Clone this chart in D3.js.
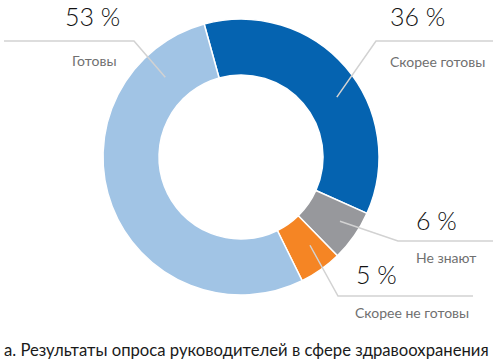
<!DOCTYPE html>
<html>
<head>
<meta charset="utf-8">
<script src="https://cdn.jsdelivr.net/npm/d3@7"></script>
<style>
  body { margin: 0; background: #fff; }
  svg { display: block; font-family: Lato, "Open Sans", sans-serif; }
  .pct { font-size: 25px; font-weight: 300; fill: #111; }
  .cat { font-size: 14px; fill: #707070; }
  .caption { font-size: 16.5px; fill: #1a1a1a; }
  .leader { fill: none; stroke: #d2d2d2; stroke-width: 1.5; }
</style>
</head>
<body>
<script>
'use strict';

// slice data, clockwise from the top
const categories = ["Скорее готовы", "Не знают", "Скорее не готовы", "Готовы"];
const values = [36, 6, 5, 53];
const colors = ["#0563b0", "#97989c", "#f58524", "#a1c4e5"];
const caption = "а. Результаты опроса руководителей в сфере здравоохранения";

// label placement: leader start (angle on ring, radius), elbow, line end, text spots
const labelLayout = [
  { ang: 58,   r: 113, elbow: [376, 41],  end: 493, pct: [390, 26],  cat: [390, 67] },
  { ang: 123,  r: 118, elbow: [398, 241], end: 493, pct: [416, 230], cat: [416, 263] },
  { ang: 142,  r: 112, elbow: [338, 296], end: 473, pct: [356, 284], cat: [355, 318] },
  { ang: -43.5, r: 110, elbow: [134, 41], end: 4,   pct: [65, 26],   cat: [72, 66] }
];

const width = 493, height = 363;
const cx = 241, cy = 157, outerR = 138, innerR = 82;
const startDeg = -15.5;

const svg = d3.select('body').append('svg')
  .attr('width', width)
  .attr('height', height);

const pie = d3.pie()
  .sort(null)
  .startAngle(startDeg * Math.PI / 180)
  .endAngle((startDeg + 360) * Math.PI / 180);

const arc = d3.arc()
  .innerRadius(innerR)
  .outerRadius(outerR);

const arcs = pie(values);

const g = svg.append('g')
  .attr('transform', 'translate(' + cx + ',' + cy + ')');

g.selectAll('path.slice')
  .data(arcs)
  .enter()
  .append('path')
    .attr('class', 'slice')
    .attr('d', arc)
    .attr('fill', (d, i) => colors[i])
    .attr('stroke', '#fff')
    .attr('stroke-width', 1.5);

// leader lines and labels
labelLayout.forEach((L, i) => {
  let a = L.ang * Math.PI / 180;
  let x0 = cx + L.r * Math.sin(a);
  let y0 = cy - L.r * Math.cos(a);
  svg.append('path')
    .attr('class', 'leader')
    .attr('d', d3.line()([[x0, y0], L.elbow, [L.end, L.elbow[1]]]));

  svg.append('text')
    .attr('class', 'pct')
    .attr('x', L.pct[0])
    .attr('y', L.pct[1])
    .text(values[i] + ' %');

  svg.append('text')
    .attr('class', 'cat')
    .attr('x', L.cat[0])
    .attr('y', L.cat[1])
    .text(categories[i]);
});

let cap = svg.append('text')
  .attr('class', 'caption')
  .attr('x', 4)
  .attr('y', 356)
  .text(caption);

// fit caption to its width in the original
let w = cap.node().getComputedTextLength();
cap.style('font-size', (16.5 * 485 / w) + 'px');
</script>
</body>
</html>
